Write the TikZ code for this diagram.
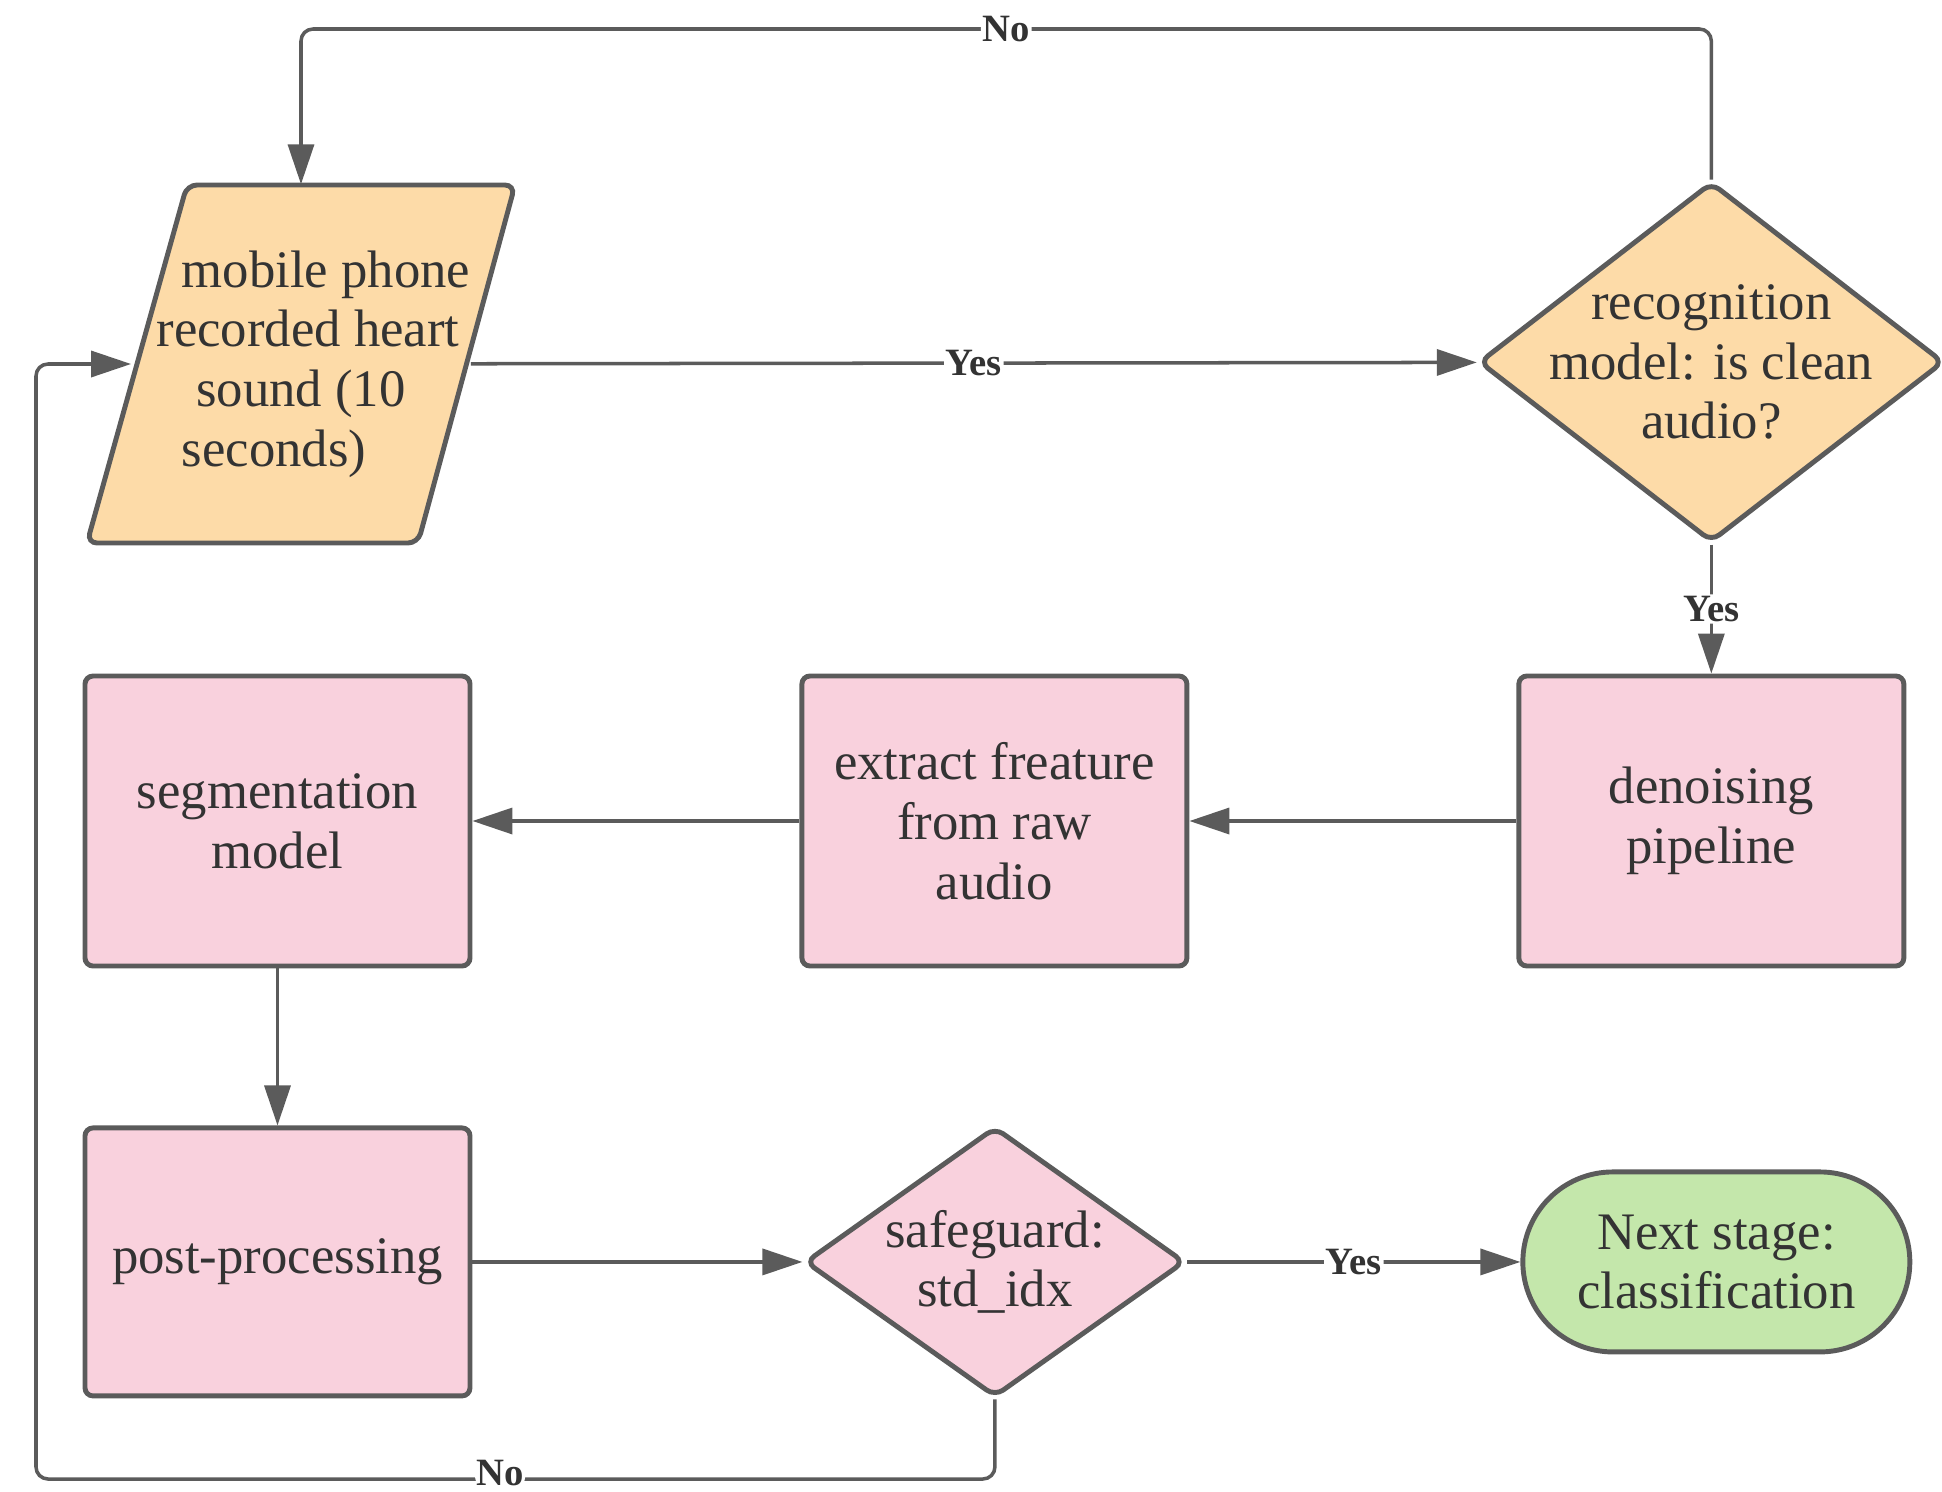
\documentclass[tikz,border=0pt]{standalone}
\usepackage{fontspec}
\setmainfont{Liberation Serif}
\usetikzlibrary{positioning,arrows.meta,shapes.geometric}

\definecolor{linegray}{HTML}{5B5B5B}
\definecolor{txtgray}{HTML}{333333}
\definecolor{peach}{HTML}{FDDBA8}
\definecolor{pinkish}{HTML}{F9D1DD}
\definecolor{mint}{HTML}{C4E7AB}

\tikzset{
  shapebase/.style={draw=linegray, line width=1.4pt, text=txtgray,
    font=\fontsize{15}{17}\selectfont, align=center, inner sep=2pt},
  box/.style={shapebase, rectangle, rounded corners=0.08cm, fill=pinkish,
    minimum width=3.85cm, minimum height=2.9cm},
  decision/.style={shapebase, diamond, rounded corners=0.1cm, inner sep=-0.5cm},
  inoutshape/.style={draw=linegray, line width=1.4pt, fill=peach, rounded corners=0.1cm},
  inout/.style={rectangle, text=txtgray, font=\fontsize{15}{17}\selectfont,
    align=center, inner sep=0pt, minimum width=3.34cm, minimum height=3.58cm},
  terminal/.style={shapebase, rectangle, rounded corners=0.9cm, fill=mint,
    minimum width=3.87cm, minimum height=1.8cm},
  flow/.style={draw=linegray, line width=1pt, rounded corners=0.12cm,
    -{Triangle[length=0.4cm, width=0.26cm]}},
  yesno/.style={fill=white, inner sep=0.5pt, text=txtgray,
    font=\bfseries\fontsize{11}{13}\selectfont}
}

\begin{document}
\begin{tikzpicture}[]

  \useasboundingbox (0,0) rectangle (19.42,-14.92);

  \draw[inoutshape] (0.87,-5.43) -- (4.18,-5.43) -- (5.15,-1.85) -- (1.87,-1.85) -- cycle;
  \node[inout] (input) at (3.01,-3.64) {\hspace*{0.5cm}mobile phone\\\hspace*{0.14cm}recorded heart\\sound (10\hspace*{0.4cm}\\seconds)\hspace*{0.54cm}};

  \node[box] (seg) at (2.775,-8.21) {segmentation\\model};
  \node[box] (extract) [right=3.27cm of seg] {extract freature\\from raw\\audio};
  \node[box] (denoise) [right=3.27cm of extract] {denoising\\pipeline};
  \node[decision, fill=peach, aspect=1.31, minimum width=4.65cm, minimum height=3.6cm] (recog) [above=1.29cm of denoise] {recognition\\model: is clean\\audio?};

  \node[box, minimum height=2.68cm] (post) [below=1.57cm of seg] {post-processing};
  \node[decision, fill=pinkish, aspect=1.43, minimum width=3.8cm, minimum height=2.7cm] (safe) [right=3.3cm of post] {safeguard:\\std\_idx};
  \node[terminal] (next) [right=3.33cm of safe] {Next stage:\\classification};

  \coordinate (topturn) at (3.01,-0.29);
  \coordinate (back) at (0.36,-14.79);

  \draw[flow] (recog.north) |- node[yesno, pos=0.75] {No} (topturn) -- (input.north);
  \draw[flow] (input) -- node[yesno] {Yes} (recog);
  \draw[flow] (recog) -- node[yesno] {Yes} (denoise);
  \draw[flow] (denoise) -- (extract);
  \draw[flow] (extract) -- (seg);
  \draw[flow] (seg) -- (post);
  \draw[flow] (post) -- (safe);
  \draw[flow] (safe) -- node[yesno] {Yes} (next);
  \draw[flow] (safe.south) |- node[yesno, pos=0.758, yshift=0.06cm] {No} (back) |- (input.west);

\end{tikzpicture}
\end{document}
